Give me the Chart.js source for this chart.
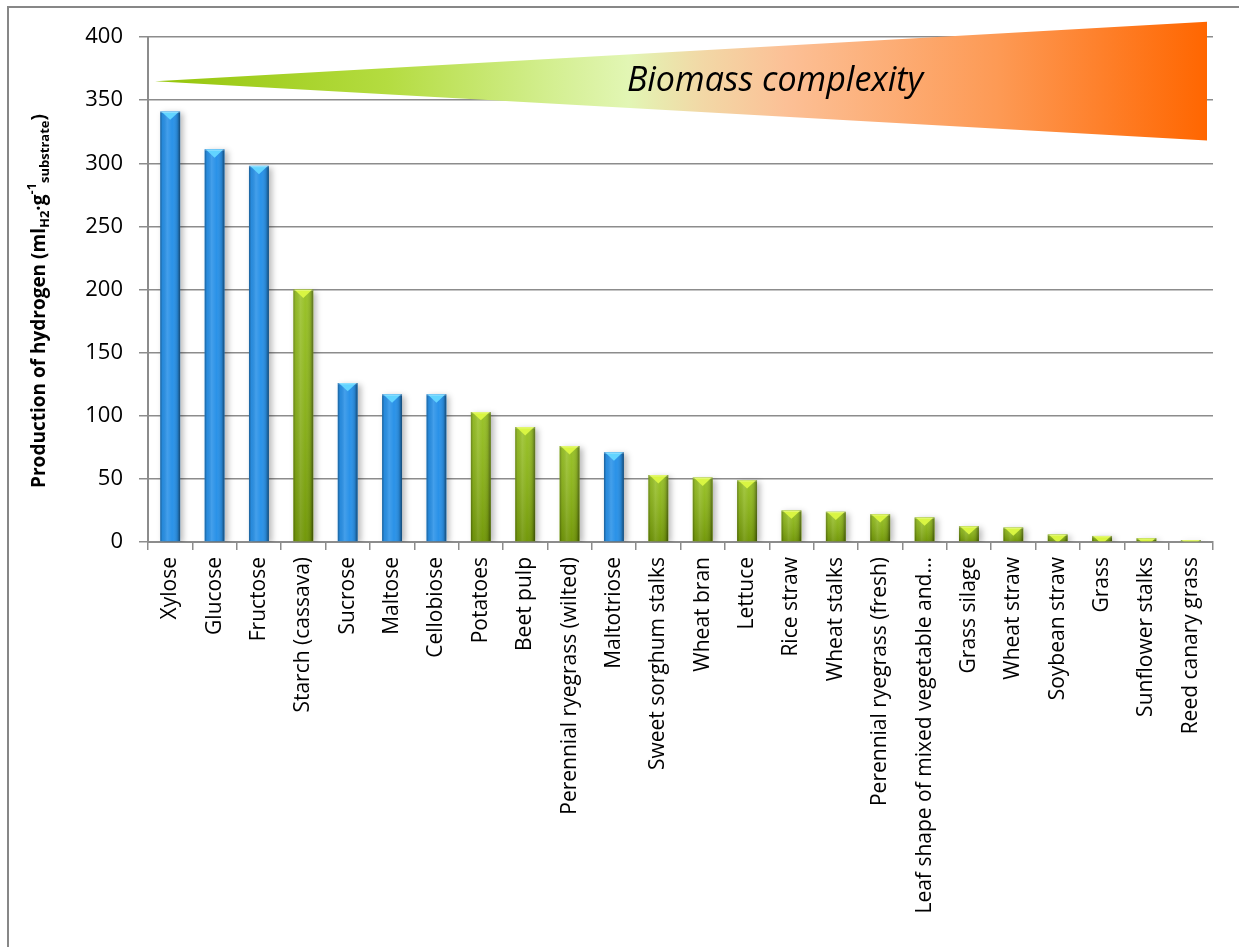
<!DOCTYPE html>
<html>
<head>
<meta charset="utf-8">
<title>Production of hydrogen</title>
<script src="https://cdn.jsdelivr.net/npm/chart.js@4.4.1/dist/chart.umd.min.js"></script>
<style>
  html, body { margin: 0; padding: 0; background: #fff; overflow: hidden; }
  #wrap { width: 1239px; height: 947px; }
</style>
</head>
<body>
<div id="wrap"><canvas id="h2Chart" width="1239" height="947"></canvas></div>
<script>
// substrates, ordered by hydrogen yield
var substrates = ['Xylose', 'Glucose', 'Fructose', 'Starch (cassava)', 'Sucrose', 'Maltose', 'Cellobiose',
  'Potatoes', 'Beet pulp', 'Perennial ryegrass (wilted)', 'Maltotriose', 'Sweet sorghum stalks',
  'Wheat bran', 'Lettuce', 'Rice straw', 'Wheat stalks', 'Perennial ryegrass (fresh)',
  'Leaf shape of mixed vegetable and...', 'Grass silage', 'Wheat straw', 'Soybean straw', 'Grass',
  'Sunflower stalks', 'Reed canary grass'];

// ml H2 per g substrate
var h2Yield = [341, 311, 298, 200, 126, 117, 117, 103, 91, 76, 71, 53, 51, 49, 25, 24, 22, 19.5, 12.5, 11.5, 6, 4.8, 3, 1.5];

// 's' = simple sugar (blue), 'b' = biomass (green)
var substrateType = ['s', 's', 's', 'b', 's', 's', 's', 'b', 'b', 'b', 's', 'b', 'b', 'b', 'b', 'b', 'b', 'b', 'b', 'b', 'b', 'b', 'b', 'b'];

var yTicks = [0, 50, 100, 150, 200, 250, 300, 350, 400];

var colors = {
  s: { body: '#2a92e8', cap: '#62d4ff' },
  b: { body: '#8cba0c', cap: '#d9f542' }
};

var FONT = '"Open Sans", "Liberation Sans", sans-serif';
var gridColor = '#8c8c8c';

// frame, wedge and y title
var decorations = {
  id: 'decorations',
  beforeDraw: function(chart) {
    var c = chart.ctx;
    c.save();
    c.fillStyle = '#fff';
    c.fillRect(0, 0, chart.width, chart.height);
    c.strokeStyle = '#878787';
    c.lineWidth = 2;
    c.beginPath();
    c.moveTo(8, chart.height);
    c.lineTo(8, 7);
    c.lineTo(chart.width, 7);
    c.stroke();
    c.restore();
  },
  beforeDatasetsDraw: function(chart) {
    var c = chart.ctx, y = chart.scales.y, a = chart.chartArea;
    var x0 = a.left + 7, x1 = a.right - 6;
    var tip = y.getPixelForValue(365), top = y.getPixelForValue(412), bot = y.getPixelForValue(318);
    c.save();
    var g = c.createLinearGradient(x0, 0, x1, 0);
    g.addColorStop(0, '#95c50a');
    g.addColorStop(0.22, '#b4dc40');
    g.addColorStop(0.38, '#d4ef92');
    g.addColorStop(0.45, '#e2f6b4');
    g.addColorStop(0.52, '#f2d8a6');
    g.addColorStop(0.6, '#fcc096');
    g.addColorStop(0.8, '#fd9a55');
    g.addColorStop(1, '#ff6600');
    c.fillStyle = g;
    c.beginPath();
    c.moveTo(x0, tip);
    c.lineTo(x1, top);
    c.lineTo(x1, bot);
    c.closePath();
    c.fill();
    c.fillStyle = '#000';
    c.font = 'italic 34px ' + FONT;
    c.textAlign = 'center';
    c.textBaseline = 'middle';
    c.fillText('Biomass complexity', 775, tip);
    c.restore();

    // soft shadow under the bars
    c.save();
    c.shadowColor = 'rgba(0,0,0,0.28)';
    c.shadowBlur = 6;
    c.shadowOffsetX = 3;
    c.shadowOffsetY = 2;
  },
  afterDatasetsDraw: function(chart) {
    var c = chart.ctx;
    c.restore();
    var meta = chart.getDatasetMeta(0);
    meta.data.forEach(function(bar, i) {
      var w = bar.width, l = bar.x - w / 2, r = bar.x + w / 2;
      var t = bar.y, b = bar.base, h = b - t;
      c.save();
      c.beginPath();
      c.rect(l, t, w, h);
      c.clip();
      // rounded shading across the bar
      var g = c.createLinearGradient(l, 0, r, 0);
      g.addColorStop(0, 'rgba(0,0,0,0.35)');
      g.addColorStop(0.12, 'rgba(0,0,0,0.05)');
      g.addColorStop(0.35, 'rgba(255,255,255,0.12)');
      g.addColorStop(0.6, 'rgba(255,255,255,0)');
      g.addColorStop(0.85, 'rgba(0,0,0,0.12)');
      g.addColorStop(1, 'rgba(0,0,0,0.5)');
      c.fillStyle = g;
      c.fillRect(l, t, w, h);
      if (substrateType[i] === 'b') {
        var v = c.createLinearGradient(0, t, 0, b);
        v.addColorStop(0, 'rgba(255,255,255,0.12)');
        v.addColorStop(1, 'rgba(0,0,0,0.18)');
        c.fillStyle = v;
        c.fillRect(l, t, w, h);
      }
      // bevelled cap
      var d = w * 0.42;
      c.fillStyle = colors[substrateType[i]].cap;
      c.beginPath();
      c.moveTo(l + 1, t);
      c.lineTo(r - 1, t);
      c.lineTo(bar.x, t + d);
      c.closePath();
      c.fill();
      c.fillStyle = 'rgba(255,255,255,0.25)';
      c.fillRect(l, t, w, 1.5);
      c.restore();
    });
  },
  afterDraw: function(chart) {
    // y title with sub/superscripts
    var c = chart.ctx;
    var parts = [
      { t: 'Production of hydrogen (ml', s: 19, dy: 0 },
      { t: 'H2', s: 13, dy: 4 },
      { t: '\u00b7g', s: 19, dy: 0 },
      { t: '-1', s: 13, dy: -9 },
      { t: 'substrate', s: 13, dy: 4 },
      { t: ')', s: 19, dy: 0 }
    ];
    c.save();
    var total = 0;
    parts.forEach(function(p) {
      c.font = 'bold ' + p.s + 'px ' + FONT;
      p.w = c.measureText(p.t).width;
      total += p.w;
    });
    c.translate(45, 301);
    c.rotate(-Math.PI / 2);
    c.fillStyle = '#000';
    c.textBaseline = 'alphabetic';
    var x = -total / 2;
    parts.forEach(function(p) {
      c.font = 'bold ' + p.s + 'px ' + FONT;
      c.fillText(p.t, x, p.dy);
      x += p.w;
    });
    c.restore();
  }
};

var ctx = document.getElementById('h2Chart').getContext('2d');

var myChart = new Chart(ctx, {
  type: 'bar',
  data: {
    labels: substrates,
    datasets: [{
      data: h2Yield,
      backgroundColor: substrateType.map(function(t) { return colors[t].body; }),
      borderWidth: 0,
      barPercentage: 0.45,
      categoryPercentage: 1
    }]
  },
  options: {
    responsive: false,
    animation: false,
    layout: { padding: { left: 0, top: 37, right: 26, bottom: 0 } },
    plugins: {
      legend: { display: false },
      tooltip: { enabled: false }
    },
    scales: {
      x: {
        offset: true,
        grid: { display: true, offset: true, drawOnChartArea: false, color: gridColor, lineWidth: 1.5, tickLength: 8 },
        border: { color: gridColor, width: 2 },
        ticks: {
          autoSkip: false, maxRotation: 90, minRotation: 90, padding: 7,
          color: '#000', font: { family: FONT, size: 21 }
        },
        afterFit: function(scale) { scale.height = 405; }
      },
      y: {
        min: 0,
        max: 400,
        afterBuildTicks: function(scale) { scale.ticks = yTicks.map(function(v) { return { value: v }; }); },
        grid: { color: gridColor, lineWidth: 1.5, tickLength: 9 },
        border: { color: gridColor, width: 2 },
        ticks: { padding: 16, color: '#000', font: { family: FONT, size: 22 } },
        afterFit: function(scale) { scale.width = 148; }
      }
    }
  },
  plugins: [decorations]
});
</script>
</body>
</html>
